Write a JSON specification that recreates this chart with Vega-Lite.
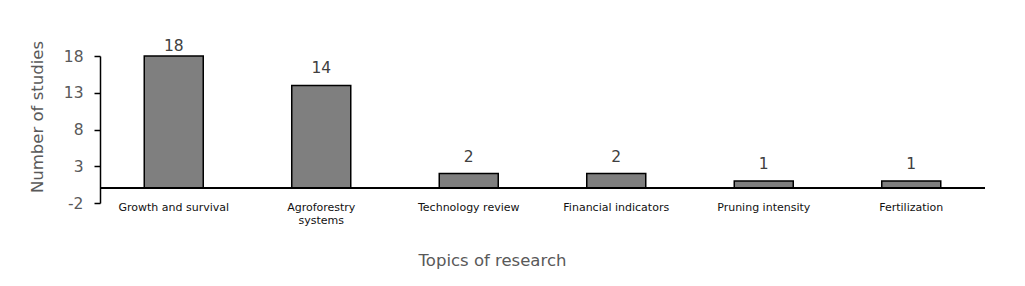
{
  "$schema": "https://vega.github.io/schema/vega-lite/v6.json",
  "autosize": "none",
  "width": 885,
  "height": 147,
  "padding": {"left": 100, "top": 56, "right": 40, "bottom": 83},
  "background": "white",
  "config": {"view": {"stroke": null}, "font": "DejaVu Sans"},
  "data": {"values": [
    {"topic": "Growth and survival", "studies": 18},
    {"topic": "Agroforestry systems", "studies": 14},
    {"topic": "Technology review", "studies": 2},
    {"topic": "Financial indicators", "studies": 2},
    {"topic": "Pruning intensity", "studies": 1},
    {"topic": "Fertilization", "studies": 1}
  ]},
  "encoding": {
    "y": {
      "field": "studies", "type": "quantitative",
      "scale": {"domain": [-2, 18], "nice": false, "zero": false},
      "axis": {
        "title": "Number of studies",
        "titleFont": "DejaVu Sans", "titleFontSize": 16.5, "titleFontWeight": "normal", "titleColor": "#595959",
        "titleX": -63, "titleY": 60.5, "titleBaseline": "middle", "titleAlign": "center", "titleAngle": -90,
        "values": [-2, 3, 8, 13, 18],
        "labelOverlap": false,
        "labelExpr": "datum.value < 0 ? '-' + abs(datum.value) : '' + datum.value",
        "labelFontSize": 15.5, "labelColor": "#595959", "labelPadding": 11, "labelFont": "DejaVu Sans",
        "tickSize": 6, "tickColor": "#000000", "domainColor": "#000000", "tickWidth": 1.5, "domainWidth": 1.5,
        "grid": false
      }
    }
  },
  "layer": [
    {
      "mark": {"type": "bar", "fill": "#7f7f7f", "stroke": "#000000", "strokeWidth": 1.5},
      "encoding": {
        "x": {
          "field": "topic", "type": "nominal", "sort": null,
          "scale": {"paddingInner": 0.6, "paddingOuter": 0.3},
          "axis": {
            "title": "Topics of research",
            "titleFont": "DejaVu Sans", "titleFontSize": 16.5, "titleFontWeight": "normal", "titleColor": "#595959",
            "titleX": 392, "titleY": 49, "titleAnchor": "middle", "titleAlign": "center",
            "labelAngle": 0, "labelFontSize": 11, "labelColor": "#111111", "labelFont": "DejaVu Sans",
            "labelPadding": -2, "labelLineHeight": 13, "labelLimit": 200,
            "labelExpr": "datum.label == 'Agroforestry systems' ? ['Agroforestry', 'systems'] : datum.label",
            "domain": false, "ticks": false
          }
        },
        "y2": {"datum": 0}
      }
    },
    {
      "mark": {"type": "rule", "color": "#000000", "strokeWidth": 1.5},
      "encoding": {"y": {"datum": 0}}
    },
    {
      "transform": [{"filter": "datum.studies < 18"}],
      "mark": {"type": "text", "fontSize": 15.5, "color": "#404040", "baseline": "middle", "dy": -17, "font": "DejaVu Sans"},
      "encoding": {
        "x": {"field": "topic", "type": "nominal", "sort": null},
        "text": {"field": "studies", "type": "quantitative"}
      }
    },
    {
      "transform": [{"filter": "datum.studies >= 18"}],
      "mark": {"type": "text", "fontSize": 15.5, "color": "#404040", "baseline": "middle", "dy": -10, "font": "DejaVu Sans"},
      "encoding": {
        "x": {"field": "topic", "type": "nominal", "sort": null},
        "text": {"field": "studies", "type": "quantitative"}
      }
    }
  ]
}
